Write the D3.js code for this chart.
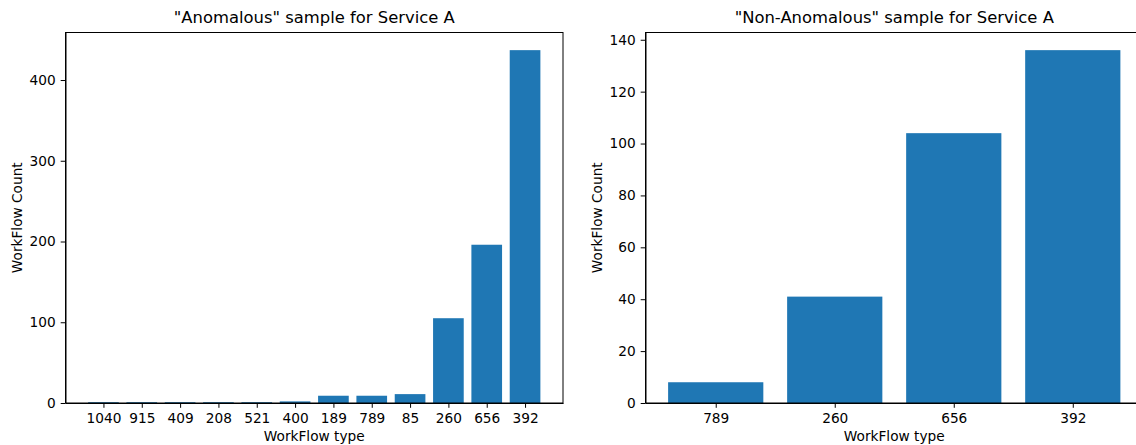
<!DOCTYPE html>
<html>
<head>
<meta charset="utf-8">
<script src="https://cdn.jsdelivr.net/npm/d3@7"></script>
<style>
  body { margin: 0; background: #fff; }
  svg { display: block; font-family: 'DejaVu Sans', sans-serif; }
  .axis path, .axis line { stroke: #000; stroke-width: 1; }
</style>
</head>
<body>
<svg id="chart" width="1136" height="445"></svg>
<script>
// anomalous sample
const anomTypes = ['1040', '915', '409', '208', '521', '400', '189', '789', '85', '260', '656', '392'];
const anomCounts = [1, 1, 1, 1, 1, 2, 9, 9, 11, 105, 196, 437];
const anomTicks = [0, 100, 200, 300, 400];

// non-anomalous sample
const normTypes = ['789', '260', '656', '392'];
const normCounts = [8, 41, 104, 136];
const normTicks = [0, 20, 40, 60, 80, 100, 120, 140];

const barColor = '#1f77b4';
const fontFamily = "'DejaVu Sans', sans-serif";
const svg = d3.select('#chart');

const drawPanel = (opts) => {
  const { left, right, top, bottom, types, counts, ticks, title } = opts;
  const n = types.length;
  // matplotlib-like 5% margins around the bars
  const pad = (n - 1 + 0.8) * 0.05 + 0.4;
  const xScale = d3.scaleLinear()
    .domain([-pad, n - 1 + pad])
    .range([left, right]);
  const yScale = d3.scaleLinear()
    .domain([0, d3.max(counts) * 1.05])
    .range([bottom, top]);

  const g = svg.append('g');

  g.selectAll('rect.bar')
    .data(counts)
    .enter()
    .append('rect')
    .attr('class', 'bar')
    .attr('x', (d, i) => xScale(i - 0.4))
    .attr('width', xScale(0.4) - xScale(-0.4))
    .attr('y', d => yScale(d))
    .attr('height', d => yScale(0) - yScale(d))
    .attr('fill', barColor);

  const xAxis = d3.axisBottom(xScale)
    .tickValues(d3.range(n))
    .tickFormat(i => types[i])
    .tickSizeInner(4.8)
    .tickSizeOuter(0)
    .tickPadding(5);
  g.append('g')
    .attr('class', 'axis')
    .attr('transform', `translate(0,${bottom})`)
    .call(xAxis)
    .attr('font-size', 13.7)
    .attr('font-family', fontFamily);

  const yAxis = d3.axisLeft(yScale)
    .tickValues(ticks)
    .tickSizeInner(4.8)
    .tickSizeOuter(0)
    .tickPadding(5);
  g.append('g')
    .attr('class', 'axis')
    .attr('transform', `translate(${left},0)`)
    .call(yAxis)
    .attr('font-size', 13.7)
    .attr('font-family', fontFamily);

  g.selectAll('.axis text').attr('fill', '#000');

  // frame
  g.append('rect')
    .attr('x', left)
    .attr('y', top)
    .attr('width', right - left)
    .attr('height', bottom - top)
    .attr('fill', 'none')
    .attr('stroke', '#000')
    .attr('stroke-width', 1);

  g.append('text')
    .attr('x', (left + right) / 2)
    .attr('y', 23)
    .attr('text-anchor', 'middle')
    .style('font-size', '16.4px')
    .text(title);

  g.append('text')
    .attr('x', (left + right) / 2)
    .attr('y', 441)
    .attr('text-anchor', 'middle')
    .style('font-size', '13.7px')
    .text('WorkFlow type');

  g.append('g')
    .attr('transform', `translate(${opts.ylabelX},${(top + bottom) / 2}) rotate(270)`)
    .append('text')
    .attr('text-anchor', 'middle')
    .style('font-size', '13.7px')
    .text('WorkFlow Count');
};

drawPanel({
  left: 65.5, right: 563, top: 32.5, bottom: 403,
  types: anomTypes, counts: anomCounts, ticks: anomTicks,
  title: '"Anomalous" sample for Service A',
  ylabelX: 21.5,
});

drawPanel({
  left: 645.5, right: 1143, top: 32.5, bottom: 403,
  types: normTypes, counts: normCounts, ticks: normTicks,
  title: '"Non-Anomalous" sample for Service A',
  ylabelX: 601.5,
});
</script>
</body>
</html>
